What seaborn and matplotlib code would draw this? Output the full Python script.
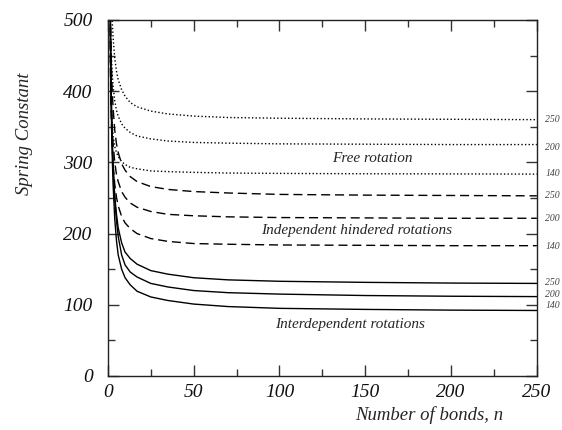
import numpy as np
import pandas as pd
import matplotlib
matplotlib.use("Agg")
import matplotlib.pyplot as plt
import seaborn as sns
from matplotlib.ticker import MultipleLocator

# ---- data ----
n_bonds = [1, 1.5, 2, 2.5, 3, 4, 5, 6, 8, 10, 13, 17, 25, 35, 50, 70, 100, 150, 200, 250]

free_250 = [900, 595, 535, 500, 476, 446, 428, 416, 402, 393, 384, 378, 372, 368, 365, 363, 362, 361, 360.5, 360]
free_200 = [850, 494, 451, 425, 408, 386, 373, 365, 354, 348, 342, 337, 333, 330, 328, 327, 326, 325.5, 325, 325]
free_140 = [800, 430, 380, 355, 338, 322, 314, 308, 301, 297, 293, 291, 288, 287, 286, 285, 284.5, 284, 283.8, 283.5]

hind_250 = [850, 502, 439, 402, 377, 345, 326, 314, 298, 289, 280, 273, 266, 262, 259, 257, 255, 254, 253.5, 253]
hind_200 = [820, 436, 382, 349, 327, 300, 283, 273, 259, 251, 243, 237, 231, 227, 225, 223.5, 222.5, 222, 221.5, 221.5]
hind_140 = [800, 418, 358, 322, 298, 269, 251, 239, 224, 215, 207, 200, 193, 189, 186, 185, 184, 183.5, 183, 183]

inter_250 = [800, 462, 378, 328, 294, 252, 227, 208, 187, 174, 165, 157, 148, 143, 138, 135, 133, 131.5, 130.5, 130]
inter_200 = [820, 480, 390, 335, 298, 248, 218, 196, 170, 156, 146, 139, 130, 125, 120, 117, 115, 113, 112, 111.5]
inter_140 = [840, 470, 370, 310, 270, 220, 190, 170, 150, 138, 128, 119, 111, 106, 101, 97.5, 95, 93.5, 92.5, 92]

series = {
    "free_250": free_250, "free_200": free_200, "free_140": free_140,
    "hind_250": hind_250, "hind_200": hind_200, "hind_140": hind_140,
    "inter_250": inter_250, "inter_200": inter_200, "inter_140": inter_140,
}
temps = ["250", "200", "140"]
group_labels = {"free": "Free rotation",
                "hind": "Independent hindered rotations",
                "inter": "Interdependent rotations"}
x_ticks = [0, 50, 100, 150, 200, 250]
y_ticks = [0, 100, 200, 300, 400, 500]

# ---- styling ----
sns.set_style("ticks")
plt.rcParams["font.family"] = ["Liberation Serif", "DejaVu Serif"]

fig = plt.figure(figsize=(5.62, 4.30), dpi=100)
ax = fig.add_axes([0.192, 0.1256, 0.7633, 0.828])

styles = {"free": (0, (1, 1.6)), "hind": (0, (6.5, 3.5)), "inter": "-"}

rows = []
for key, vals in series.items():
    for x, y in zip(n_bonds, vals):
        rows.append({"n": x, "K": y, "curve": key})
df = pd.DataFrame(rows)

for key in series:
    grp = key.split("_")[0]
    sub = df[df["curve"] == key]
    sns.lineplot(data=sub, x="n", y="K", ax=ax, color="black",
                 linewidth=1.0, linestyle=styles[grp], legend=False,
                 estimator=None, sort=False)

ax.set_xlim(0, 250)
ax.set_ylim(0, 500)
ax.set_xticks(x_ticks)
ax.set_yticks(y_ticks)
ax.xaxis.set_minor_locator(MultipleLocator(25))
ax.yaxis.set_minor_locator(MultipleLocator(50))
ax.tick_params(which="both", direction="in", top=True, right=True,
               color="#333333", width=1.0)
ax.tick_params(which="major", length=8)
ax.tick_params(which="minor", length=5)
ax.tick_params(axis="y", which="major", pad=11)
ax.tick_params(axis="x", which="major", pad=6)
for lab in ax.get_xticklabels() + ax.get_yticklabels():
    lab.set_fontstyle("italic")
    lab.set_fontsize(14)
    lab.set_color("#111111")
for sp in ax.spines.values():
    sp.set_visible(True)
    sp.set_color("#222222")
    sp.set_linewidth(1.0)

ax.set_xlabel("Number of bonds, n", fontsize=13.5, fontstyle="italic")
ax.xaxis.set_label_coords(0.75, -0.085)
ax.set_ylabel("Spring Constant", fontsize=13.5, fontstyle="italic")
ax.yaxis.set_label_coords(-0.175, 0.68)

# group labels
ax.text(154, 306, group_labels["free"], fontsize=11, fontstyle="italic",
        ha="center", va="center")
ax.text(145, 204, group_labels["hind"], fontsize=11, fontstyle="italic",
        ha="center", va="center")
ax.text(141, 72, group_labels["inter"], fontsize=11, fontstyle="italic",
        ha="center", va="center")

# temperature labels at the right
label_y = {"free": [360, 321, 284], "hind": [253, 221, 182], "inter": [131, 114, 99]}
for grp, ys in label_y.items():
    for t, yv in zip(temps, ys):
        ax.text(255, yv, t, fontsize=7, fontstyle="italic", color="#444444",
                ha="left", va="center", clip_on=False)

fig.savefig("out.png", dpi=100)
